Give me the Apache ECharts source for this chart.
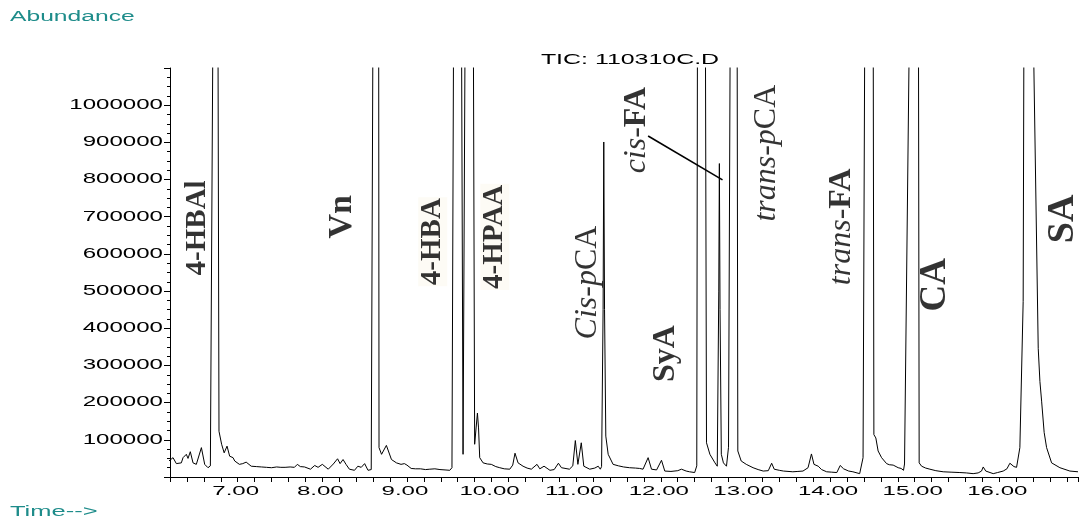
<!DOCTYPE html>
<html><head><meta charset="utf-8">
<script src="https://cdn.jsdelivr.net/npm/echarts@6/dist/echarts.min.js"></script>
<style>html,body{margin:0;padding:0;background:#fff}#c{width:1079px;height:519px}</style>
</head><body><div id="c"></div>
<script>
// ---- data ----
const times = [6.17,6.236,6.275,6.334,6.354,6.393,6.413,6.44,6.472,6.511,6.571,6.61,6.649,6.677,6.707,6.737,6.767,6.779,6.81,6.84,6.874,6.905,6.945,6.965,7.02,7.06,7.10,7.16,7.22,7.28,7.34,7.40,7.46,7.51,7.56,7.62,7.67,7.705,7.74,7.79,7.86,7.91,7.95,8.00,8.07,8.13,8.18,8.21,8.245,8.28,8.32,8.38,8.42,8.46,8.50,8.54,8.578,8.598,8.633,8.666,8.670,8.70,8.757,8.817,8.876,8.93,8.97,9.00,9.05,9.10,9.16,9.22,9.27,9.33,9.39,9.45,9.506,9.532,9.551,9.597,9.645,9.663,9.687,9.736,9.785,9.80,9.833,9.846,9.86,9.90,9.95,9.997,10.05,10.097,10.15,10.215,10.25,10.277,10.313,10.372,10.42,10.47,10.537,10.57,10.62,10.69,10.74,10.79,10.826,10.92,10.96,10.99,11.02,11.06,11.09,11.16,11.22,11.26,11.285,11.30,11.318,11.326,11.335,11.35,11.378,11.436,11.50,11.56,11.63,11.70,11.75,11.79,11.85,11.89,11.95,12.008,12.047,12.12,12.20,12.244,12.30,12.34,12.40,12.425,12.433,12.48,12.527,12.54,12.58,12.64,12.667,12.685,12.692,12.70,12.715,12.74,12.776,12.80,12.82,12.862,12.902,12.91,12.95,13.01,13.09,13.15,13.21,13.27,13.31,13.34,13.40,13.45,13.56,13.62,13.68,13.74,13.78,13.81,13.86,13.90,13.96,14.02,14.08,14.12,14.16,14.22,14.27,14.35,14.39,14.41,14.46,14.51,14.518,14.541,14.568,14.609,14.668,14.70,14.746,14.78,14.805,14.84,14.868,14.88,14.937,14.99,15.045,15.053,15.082,15.13,15.18,15.25,15.337,15.43,15.534,15.61,15.691,15.75,15.79,15.81,15.84,15.928,15.98,16.046,16.09,16.125,16.173,16.204,16.243,16.282,16.291,16.34,16.395,16.46,16.48,16.50,16.53,16.559,16.618,16.716,16.834,16.93];
const abundance = [40000,52000,36000,38000,52000,61000,50000,68000,38000,34000,79000,34000,25000,30000,1200000,1400000,1200000,123000,88000,65000,83000,56000,52000,43000,34000,36000,40000,29000,28000,27000,26000,25000,27000,26000,26000,27000,26000,34000,28000,27000,21000,31000,26000,34000,21000,35000,49000,36000,47000,34000,21000,18000,29000,26000,36000,18000,20000,1200000,1400000,1200000,79000,61000,85000,47000,38000,34000,36000,32000,23000,22000,22000,20000,21000,22000,20000,19000,18000,25000,1200000,1400000,1200000,61000,1200000,1400000,1200000,88000,172000,132000,52000,38000,35000,34000,28000,25000,22000,21000,32000,64000,38000,29000,24000,21000,34000,22000,29000,18000,20000,37000,25000,21000,30000,98000,34000,92000,29000,21000,24000,29000,21000,28000,450000,901000,450000,110000,61000,34000,30000,27000,25000,24000,23000,21000,52000,21000,19000,45000,16000,15000,17000,21000,16000,14000,12000,30000,1200000,1400000,1200000,92000,61000,38000,29000,500000,843000,450000,61000,38000,29000,80000,1200000,1400000,1200000,70000,43000,34000,25000,20000,16000,17000,37000,21000,18000,16000,14000,15000,16000,25000,62000,34000,29000,20000,14000,13000,12000,31000,22000,16000,14000,9000,52000,1200000,1400000,1200000,114000,105000,70000,52000,36000,33000,32000,28000,25000,23000,18000,35000,1200000,1400000,1200000,38000,29000,24000,21000,17000,14000,13000,12000,11000,9000,11000,16000,27000,16000,9000,12000,16000,22000,37000,28000,26000,79000,472000,1200000,1500000,1300000,346000,257000,204000,120000,79000,38000,25000,16000,14000];

const xTickValues = [7,8,9,10,11,12,13,14,15,16];
const xTickLabels = ['7.00','8.00','9.00','10.00','11.00','12.00','13.00','14.00','15.00','16.00'];
const yTickValues = [100000,200000,300000,400000,500000,600000,700000,800000,900000,1000000];
const yTickLabels = ['100000','200000','300000','400000','500000','600000','700000','800000','900000','1000000'];

const compoundNames = ['4-HBAl','Vn','4-HBA','4-HPAA','Cis-pCA','cis-FA','SyA','trans-pCA','trans-FA','CA','SA'];
const compoundTimes = [6.527,8.241,9.305,10.038,11.137,11.716,12.059,13.253,14.139,15.25,16.752];
const compoundAbund = [670000,700000,633000,646000,523000,933000,332000,871000,673000,517000,694000];

const leaderTimes = [11.85,12.729];
const leaderAbund = [917000,799000];

const titleText = 'TIC: 110310C.D';
const yAxisTitle = 'Abundance';
const xAxisTitle = 'Time-->';

// ---- styles ----
const labelMarkup = {
  '4-HBAl':'{b|4-HBAl}','Vn':'{b|Vn}','4-HBA':'{b|4-HBA}','4-HPAA':'{b|4-HPAA}',
  'Cis-pCA':'{i|Cis-p}{r|CA}','cis-FA':'{i|cis-}{b|FA}','SyA':'{b|SyA}',
  'trans-pCA':'{i|trans-p}{r|CA}','trans-FA':'{i|trans-}{b|FA}','CA':'{b|CA}','SA':'{b|SA}'
};
const labelSize = {'4-HBAl':29,'Vn':34,'4-HBA':29,'4-HPAA':29,'Cis-pCA':32,'cis-FA':32,'SyA':32,'trans-pCA':32,'trans-FA':32,'CA':37,'SA':38};
const labelBg = {'4-HBA':'#fdfaf2','4-HPAA':'#fdfaf2'};
const SERIF = '"Liberation Serif","Times New Roman",serif';
const SANS = '"Liberation Sans",Arial,sans-serif';
const TEAL = '#1e8c8a';

function richFor(size){
  return {
    b:{fontFamily:SERIF,fontWeight:'bold',fontSize:size,color:'#000'},
    i:{fontFamily:SERIF,fontStyle:'italic',fontSize:size,color:'#000'},
    r:{fontFamily:SERIF,fontSize:size,color:'#000'}
  };
}

const chart = echarts.init(document.getElementById('c'), null, {renderer:'canvas'});
const trace = times.map((t,i)=>[t,abundance[i]]);
const labelData = compoundNames.map((n,i)=>({
  value:[compoundTimes[i],compoundAbund[i]],
  label:{
    show:true, position:'inside', rotate:90,
    formatter:labelMarkup[n],
    rich:richFor(labelSize[n]),
    backgroundColor:labelBg[n]||'transparent',
    padding:labelBg[n]?[0,1]:0
  }
}));

chart.setOption({
  animation:false,
  backgroundColor:'#fff',
  grid:{left:170,right:1,top:68,bottom:42,containLabel:false},
  xAxis:{type:'value',min:6.2,max:16.93,interval:0.2,
    axisLine:{show:true,onZero:false,lineStyle:{color:'#000',width:1}},
    axisTick:{show:true,length:5,lineStyle:{color:'#000',width:1}},
    axisLabel:{show:false},splitLine:{show:false}},
  yAxis:{type:'value',min:0,max:1100000,interval:100000,
    axisLine:{show:true,lineStyle:{color:'#000',width:1}},
    axisTick:{show:true,length:6,lineStyle:{color:'#000',width:1}},
    minorTick:{show:true,splitNumber:4,length:3,lineStyle:{color:'#000',width:1}},
    axisLabel:{show:false},splitLine:{show:false}},
  series:[
    {type:'line',data:trace,symbol:'none',clip:true,lineStyle:{color:'#000',width:1},z:3},
    {type:'line',data:leaderTimes.map((t,i)=>[t,leaderAbund[i]]),symbol:'none',clip:false,lineStyle:{color:'#000',width:1.6},z:4},
    {type:'scatter',data:labelData,symbolSize:0,z:5,silent:true}
  ]
});

// axis tick labels & titles (horizontally stretched like the original instrument font)
const g = [];
xTickValues.forEach((v,i)=>{
  const p = chart.convertToPixel({gridIndex:0},[v,0]);
  g.push({type:'text',x:p[0]-2,y:p[1]+14,scaleX:1.85,
    style:{text:xTickLabels[i],font:'13px '+SANS,fill:'#000',align:'center',textAlign:'center',verticalAlign:'middle',textVerticalAlign:'middle'}});
});
yTickValues.forEach((v,i)=>{
  const p = chart.convertToPixel({gridIndex:0},[6.2,v]);
  g.push({type:'text',x:p[0]-7,y:p[1],scaleX:1.72,
    style:{text:yTickLabels[i],font:'14px '+SANS,fill:'#000',align:'right',textAlign:'right',verticalAlign:'middle',textVerticalAlign:'middle'}});
});
g.push({type:'text',x:10,y:17,scaleX:1.76,
  style:{text:yAxisTitle,font:'14px '+SANS,fill:TEAL,align:'left',textAlign:'left',verticalAlign:'middle',textVerticalAlign:'middle'}});
g.push({type:'text',x:10,y:512,scaleX:1.82,
  style:{text:xAxisTitle,font:'14px '+SANS,fill:TEAL,align:'left',textAlign:'left',verticalAlign:'middle',textVerticalAlign:'middle'}});
g.push({type:'text',x:630,y:60,scaleX:1.78,
  style:{text:titleText,font:'14px '+SANS,fill:'#000',align:'center',textAlign:'center',verticalAlign:'middle',textVerticalAlign:'middle'}});
chart.setOption({graphic:g});
</script>
</body></html>
